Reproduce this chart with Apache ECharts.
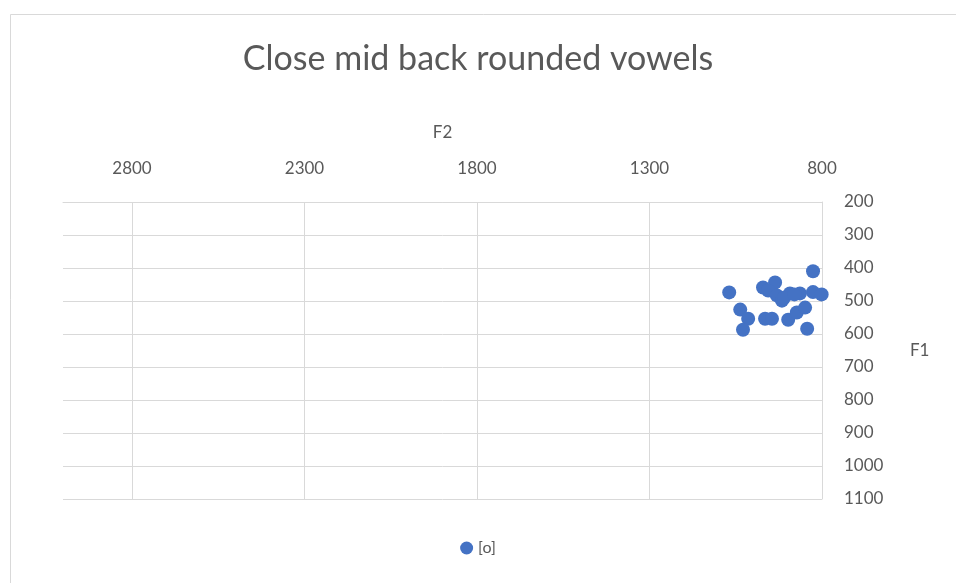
<!DOCTYPE html>
<html>
<head>
<meta charset="utf-8">
<script src="https://cdn.jsdelivr.net/npm/echarts@6/dist/echarts.min.js"></script>
<style>
  html, body { margin: 0; padding: 0; background: #fff; }
  #chart { width: 956px; height: 583px; }
</style>
</head>
<body>
<div id="chart"></div>
<script>
// F2 (x) and F1 (y) of each [o] token
const f2 = [826, 1069, 971, 936, 956, 931, 916, 893, 864, 826, 801, 1037, 1014, 1029, 965, 945, 898, 873, 849, 843, 910, 880];
const f1 = [410, 474, 459, 444, 468, 483, 499, 477, 477, 473, 480, 526, 554, 587, 554, 554, 557, 535, 520, 584, 490, 480];
const seriesName = '[o]';

const font = 'Lato, "Open Sans", sans-serif';
const textColor = '#595959';
const gridColor = '#d9d9d9';

let points = f2.map((x, i) => [x, f1[i]]);

let chart = echarts.init(document.getElementById('chart'));

let option = {
  backgroundColor: '#fff',
  textStyle: { fontFamily: font },
  title: {
    text: 'Close mid back rounded vowels',
    left: 'center',
    top: 37,
    textStyle: { fontFamily: font, fontSize: 34, fontWeight: 'normal', color: textColor }
  },
  legend: {
    bottom: 22,
    left: 'center',
    icon: 'circle',
    itemWidth: 13,
    itemHeight: 13,
    itemGap: 4,
    textStyle: { fontFamily: font, fontSize: 16, color: textColor },
    data: [seriesName]
  },
  graphic: [{
    type: 'rect',
    shape: { x: 10.5, y: 14.5, width: 960, height: 600 },
    style: { fill: 'none', stroke: gridColor, lineWidth: 1 },
    silent: true
  }],
  grid: { left: 63, right: 134, top: 202, bottom: 84 },
  xAxis: {
    type: 'value',
    name: 'F2',
    nameLocation: 'middle',
    nameGap: 61,
    nameTextStyle: { fontSize: 17, color: textColor },
    position: 'top',
    inverse: true,
    min: 800,
    max: 3000,
    interval: 500,
    axisLine: { show: true, lineStyle: { color: gridColor } },
    axisTick: { show: false },
    axisLabel: {
      fontSize: 17,
      color: textColor,
      margin: 25,
      showMaxLabel: false,
      formatter: (v) => (v === 3000 ? '' : String(v))
    },
    splitLine: { show: true, showMaxLine: false, lineStyle: { color: gridColor } }
  },
  yAxis: {
    type: 'value',
    name: 'F1',
    nameLocation: 'middle',
    nameGap: 88,
    nameRotate: 0,
    nameTextStyle: { fontSize: 17, color: textColor },
    position: 'right',
    inverse: true,
    min: 200,
    max: 1100,
    interval: 100,
    axisLine: { show: true, lineStyle: { color: gridColor } },
    axisTick: { show: false },
    axisLabel: {
      fontSize: 17,
      color: textColor,
      margin: 22,
      formatter: (v) => String(v)
    },
    splitLine: { show: true, lineStyle: { color: gridColor } }
  },
  series: [{
    name: seriesName,
    type: 'scatter',
    symbol: 'circle',
    symbolSize: 14,
    itemStyle: { color: '#4472c4', opacity: 1 },
    data: points
  }]
};

chart.setOption(option);
</script>
</body>
</html>
